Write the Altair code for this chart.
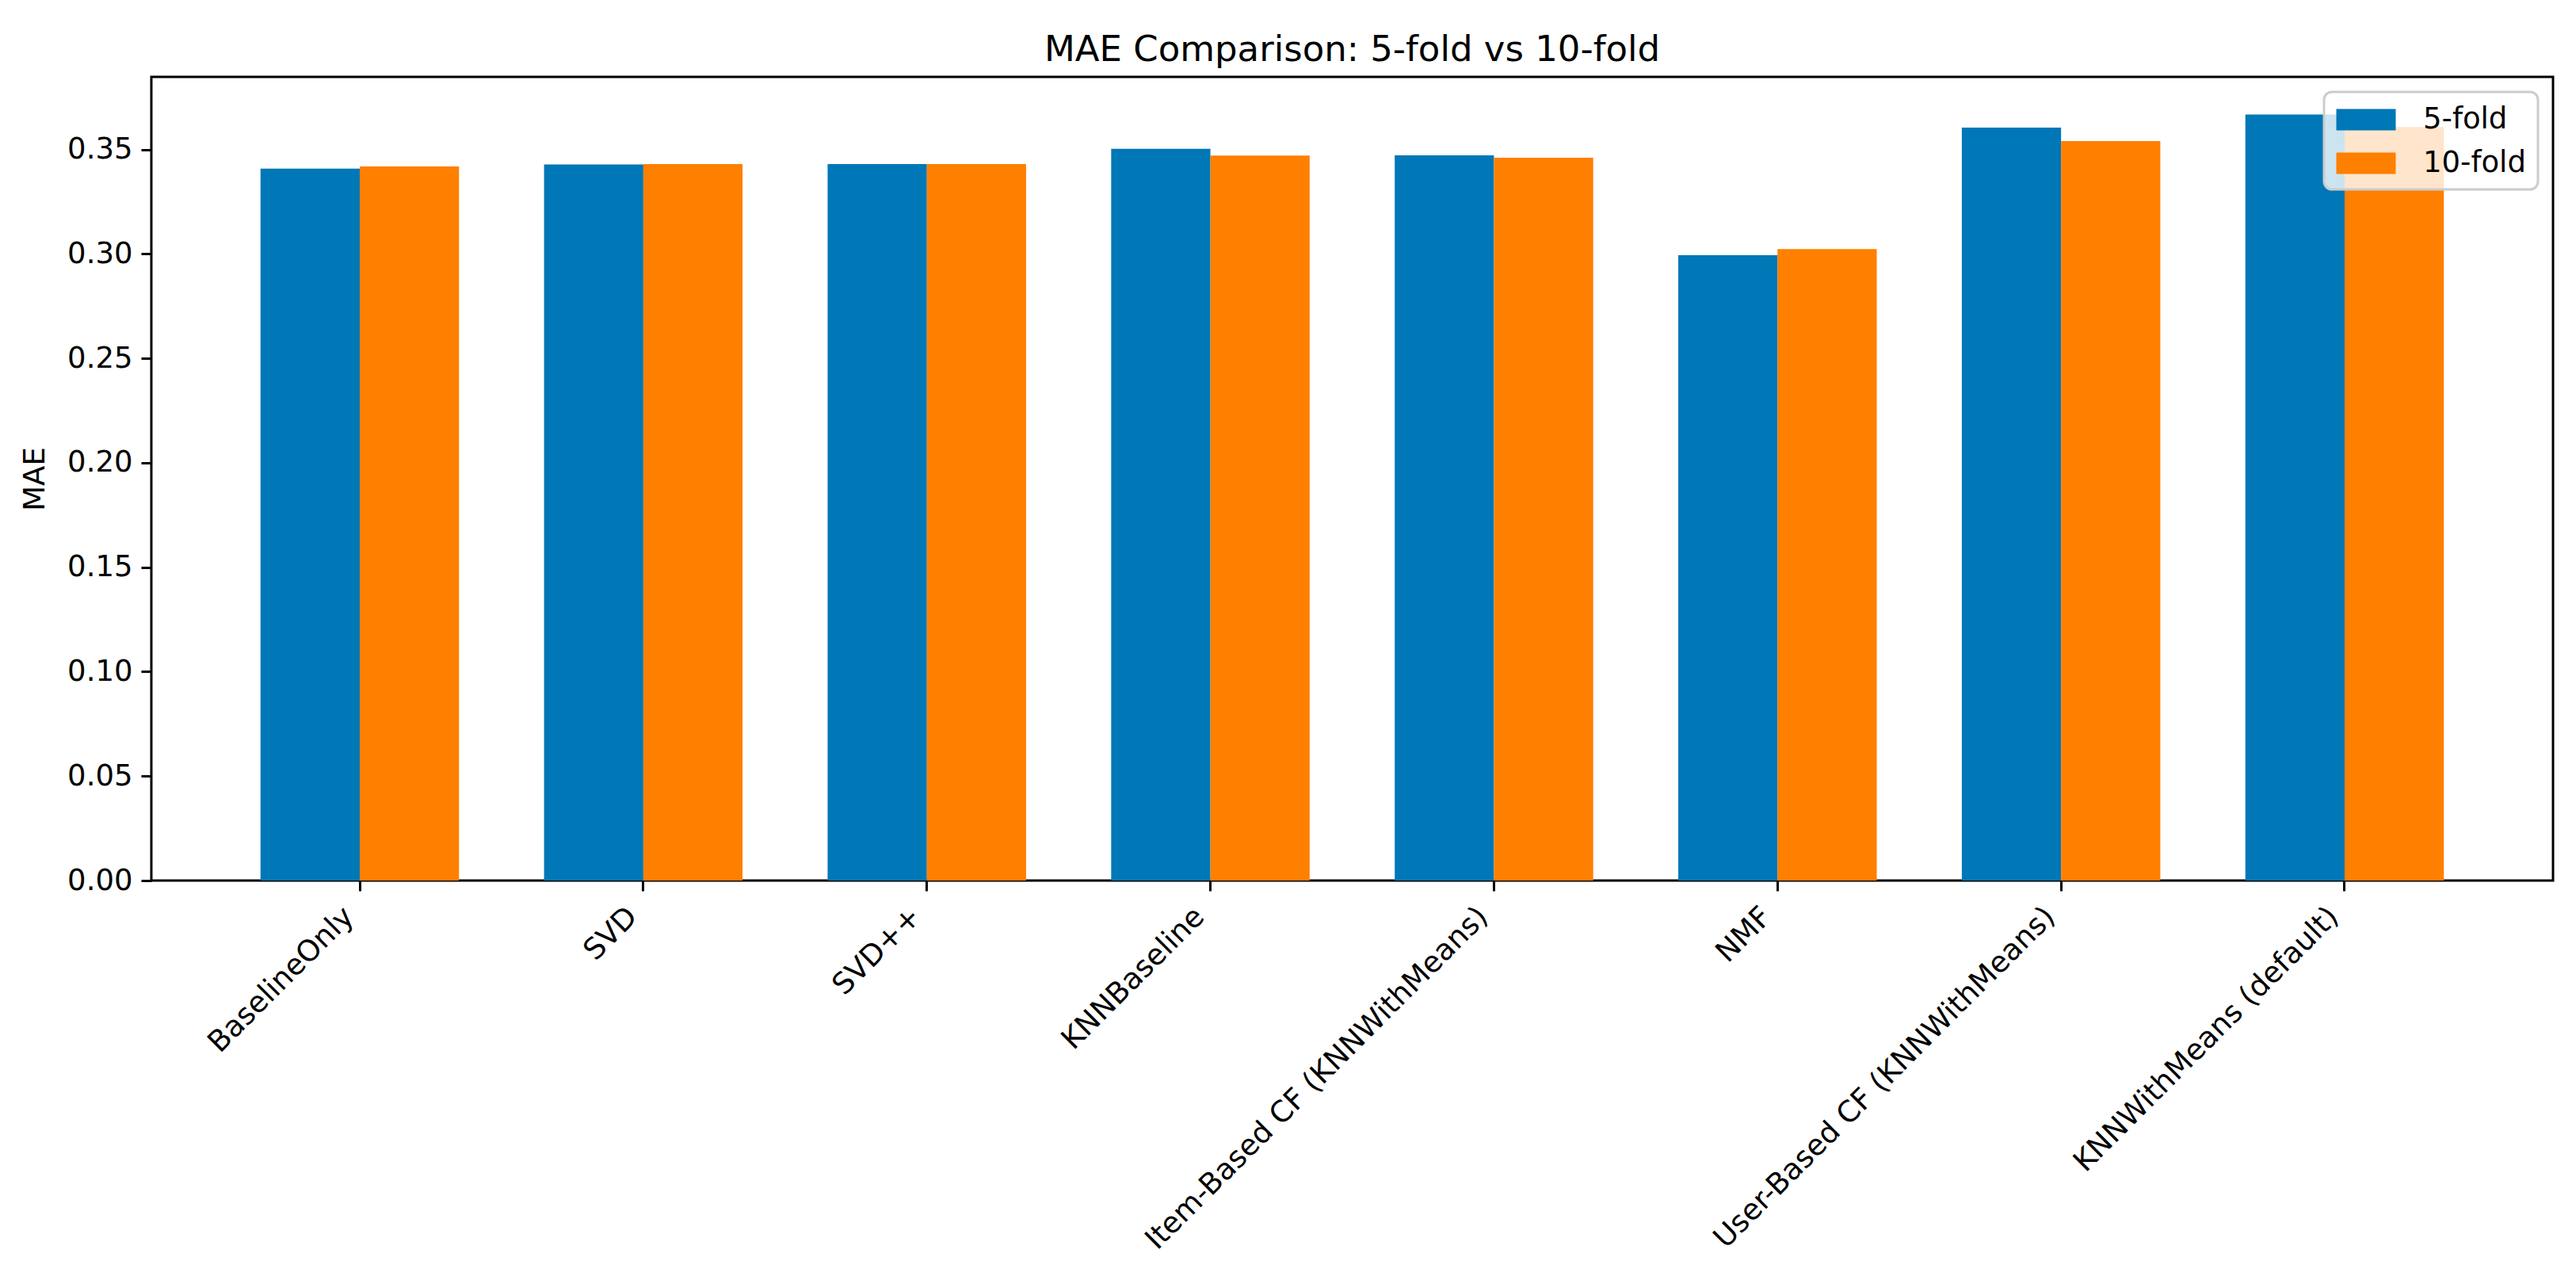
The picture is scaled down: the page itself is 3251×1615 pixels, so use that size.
import altair as alt
import pandas as pd

models = [
    "BaselineOnly",
    "SVD",
    "SVD++",
    "KNNBaseline",
    "Item-Based CF (KNNWithMeans)",
    "NMF",
    "User-Based CF (KNNWithMeans)",
    "KNNWithMeans (default)",
]
mae_5fold = [0.3409, 0.3429, 0.3431, 0.3504, 0.3472, 0.2994, 0.3605, 0.3668]
mae_10fold = [0.3419, 0.3431, 0.3431, 0.3471, 0.3461, 0.3024, 0.3541, 0.3608]
folds = ["5-fold", "10-fold"]
colors = ["#0077B6", "#FF7F00"]
y_ticks = [0.00, 0.05, 0.10, 0.15, 0.20, 0.25, 0.30, 0.35]

rows = []
for m, a, b in zip(models, mae_5fold, mae_10fold):
    rows.append({"model": m, "fold": folds[0], "MAE": a})
    rows.append({"model": m, "fold": folds[1], "MAE": b})
df = pd.DataFrame(rows)

FONT = "DejaVu Sans"
rect_path = "M-1.875,-0.675L1.875,-0.675L1.875,0.675L-1.875,0.675Z"

chart = alt.Chart(df).mark_bar().encode(
    x=alt.X(
        "model:N",
        sort=models,
        scale=alt.Scale(paddingInner=0.3, paddingOuter=0.385),
        axis=alt.Axis(
            title=None,
            labelAngle=-45,
            labelAlign="right",
            labelBaseline="bottom",
            labelPadding=40,
            labelFontSize=37,
            labelFont=FONT,
            labelColor="#000000",
            labelLimit=2000,
            labelOverlap=False,
            tickSize=13,
            tickWidth=3,
            tickColor="#000000",
            domain=False,
            grid=False,
        ),
    ),
    xOffset=alt.XOffset(
        "fold:N",
        sort=folds,
        scale=alt.Scale(paddingInner=0, paddingOuter=0),
    ),
    y=alt.Y(
        "MAE:Q",
        scale=alt.Scale(domain=[0, 0.3848], nice=False, zero=True),
        axis=alt.Axis(
            title="MAE",
            values=y_ticks,
            format=".2f",
            labelFontSize=37,
            labelFont=FONT,
            labelColor="#000000",
            labelPadding=11,
            tickSize=13,
            tickWidth=3,
            tickColor="#000000",
            titleFontSize=37,
            titleFont=FONT,
            titleFontWeight="normal",
            titleColor="#000000",
            titleAngle=-90,
            titleBaseline="bottom",
            titleAlign="center",
            titleX=-128,
            titleY=507,
            domain=False,
            grid=False,
        ),
    ),
    color=alt.Color(
        "fold:N",
        sort=folds,
        scale=alt.Scale(domain=folds, range=colors),
        legend=alt.Legend(
            title=None,
            orient="top-right",
            offset=19,
            fillColor="rgba(255,255,255,0.8)",
            strokeColor="#cccccc",
            cornerRadius=10,
            padding=15,
            symbolType=rect_path,
            symbolSize=1600,
            symbolOffset=18,
            symbolOpacity=1,
            symbolStrokeWidth=0,
            labelFontSize=37,
            labelFont=FONT,
            labelColor="#000000",
            labelOffset=52,
            rowPadding=17,
        ),
    ),
).properties(
    width=3031,
    height=1014,
    background="white",
    title=alt.TitleParams(
        "MAE Comparison: 5-fold vs 10-fold",
        fontSize=45,
        font=FONT,
        fontWeight="normal",
        color="#000000",
        anchor="middle",
        baseline="alphabetic",
        offset=25,
        dy=50,
    ),
    autosize=alt.AutoSizeParams(type="none"),
    padding={"left": 183, "top": 89, "right": 20, "bottom": 495},
).configure_view(
    stroke="#000000",
    strokeWidth=3,
).configure_legend(
    strokeWidth=3,
)

chart.save("out.html", embed_options={"renderer": "svg", "actions": False})
